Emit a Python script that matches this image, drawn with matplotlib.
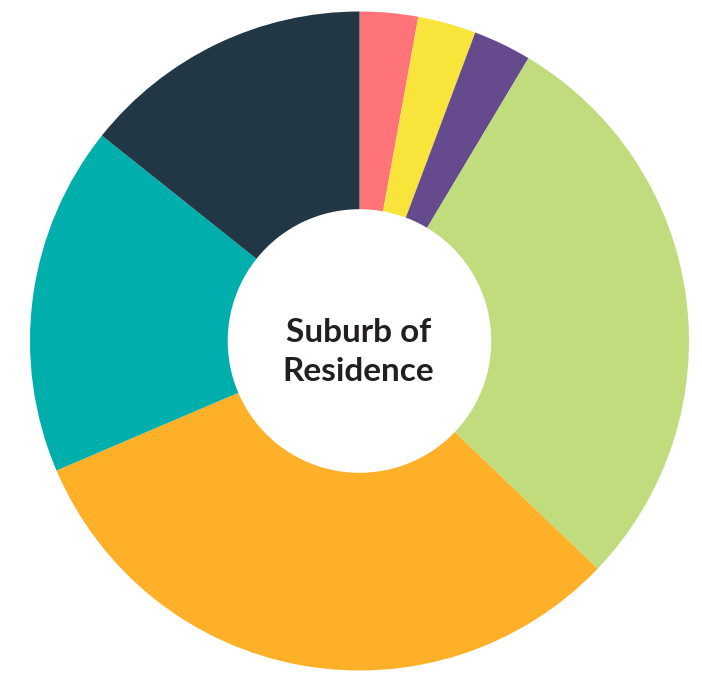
import matplotlib.pyplot as plt

# responses per suburb, clockwise from 12 o'clock
counts = [1, 1, 1, 10, 11, 6, 5]
colors = ['#FF7478', '#F9E43C', '#654B8D', '#C1DC7C', '#FDB028', '#00AEAB', '#213746']
center_label = 'Suburb of\nResidence'

W, H = 702, 677
fig = plt.figure(figsize=(W / 100, H / 100), dpi=100)
ax = fig.add_axes([0, 0, 1, 1])

cx, cy, r = 359.5, H - 341, 329.5
ax.pie(counts, colors=colors, startangle=90, counterclock=False,
       center=(cx, cy), radius=r,
       wedgeprops=dict(width=r * 0.6, linewidth=0))

ax.text(cx - 1, cy - 11, center_label, ha='center', va='center',
        fontsize=24, fontweight='bold', color='#231F20',
        family=['Lato', 'DejaVu Sans'], linespacing=1.38)

ax.set_xlim(0, W)
ax.set_ylim(0, H)
ax.set_aspect('equal')
ax.axis('off')

fig.savefig('out.png', dpi=100, facecolor='white')
